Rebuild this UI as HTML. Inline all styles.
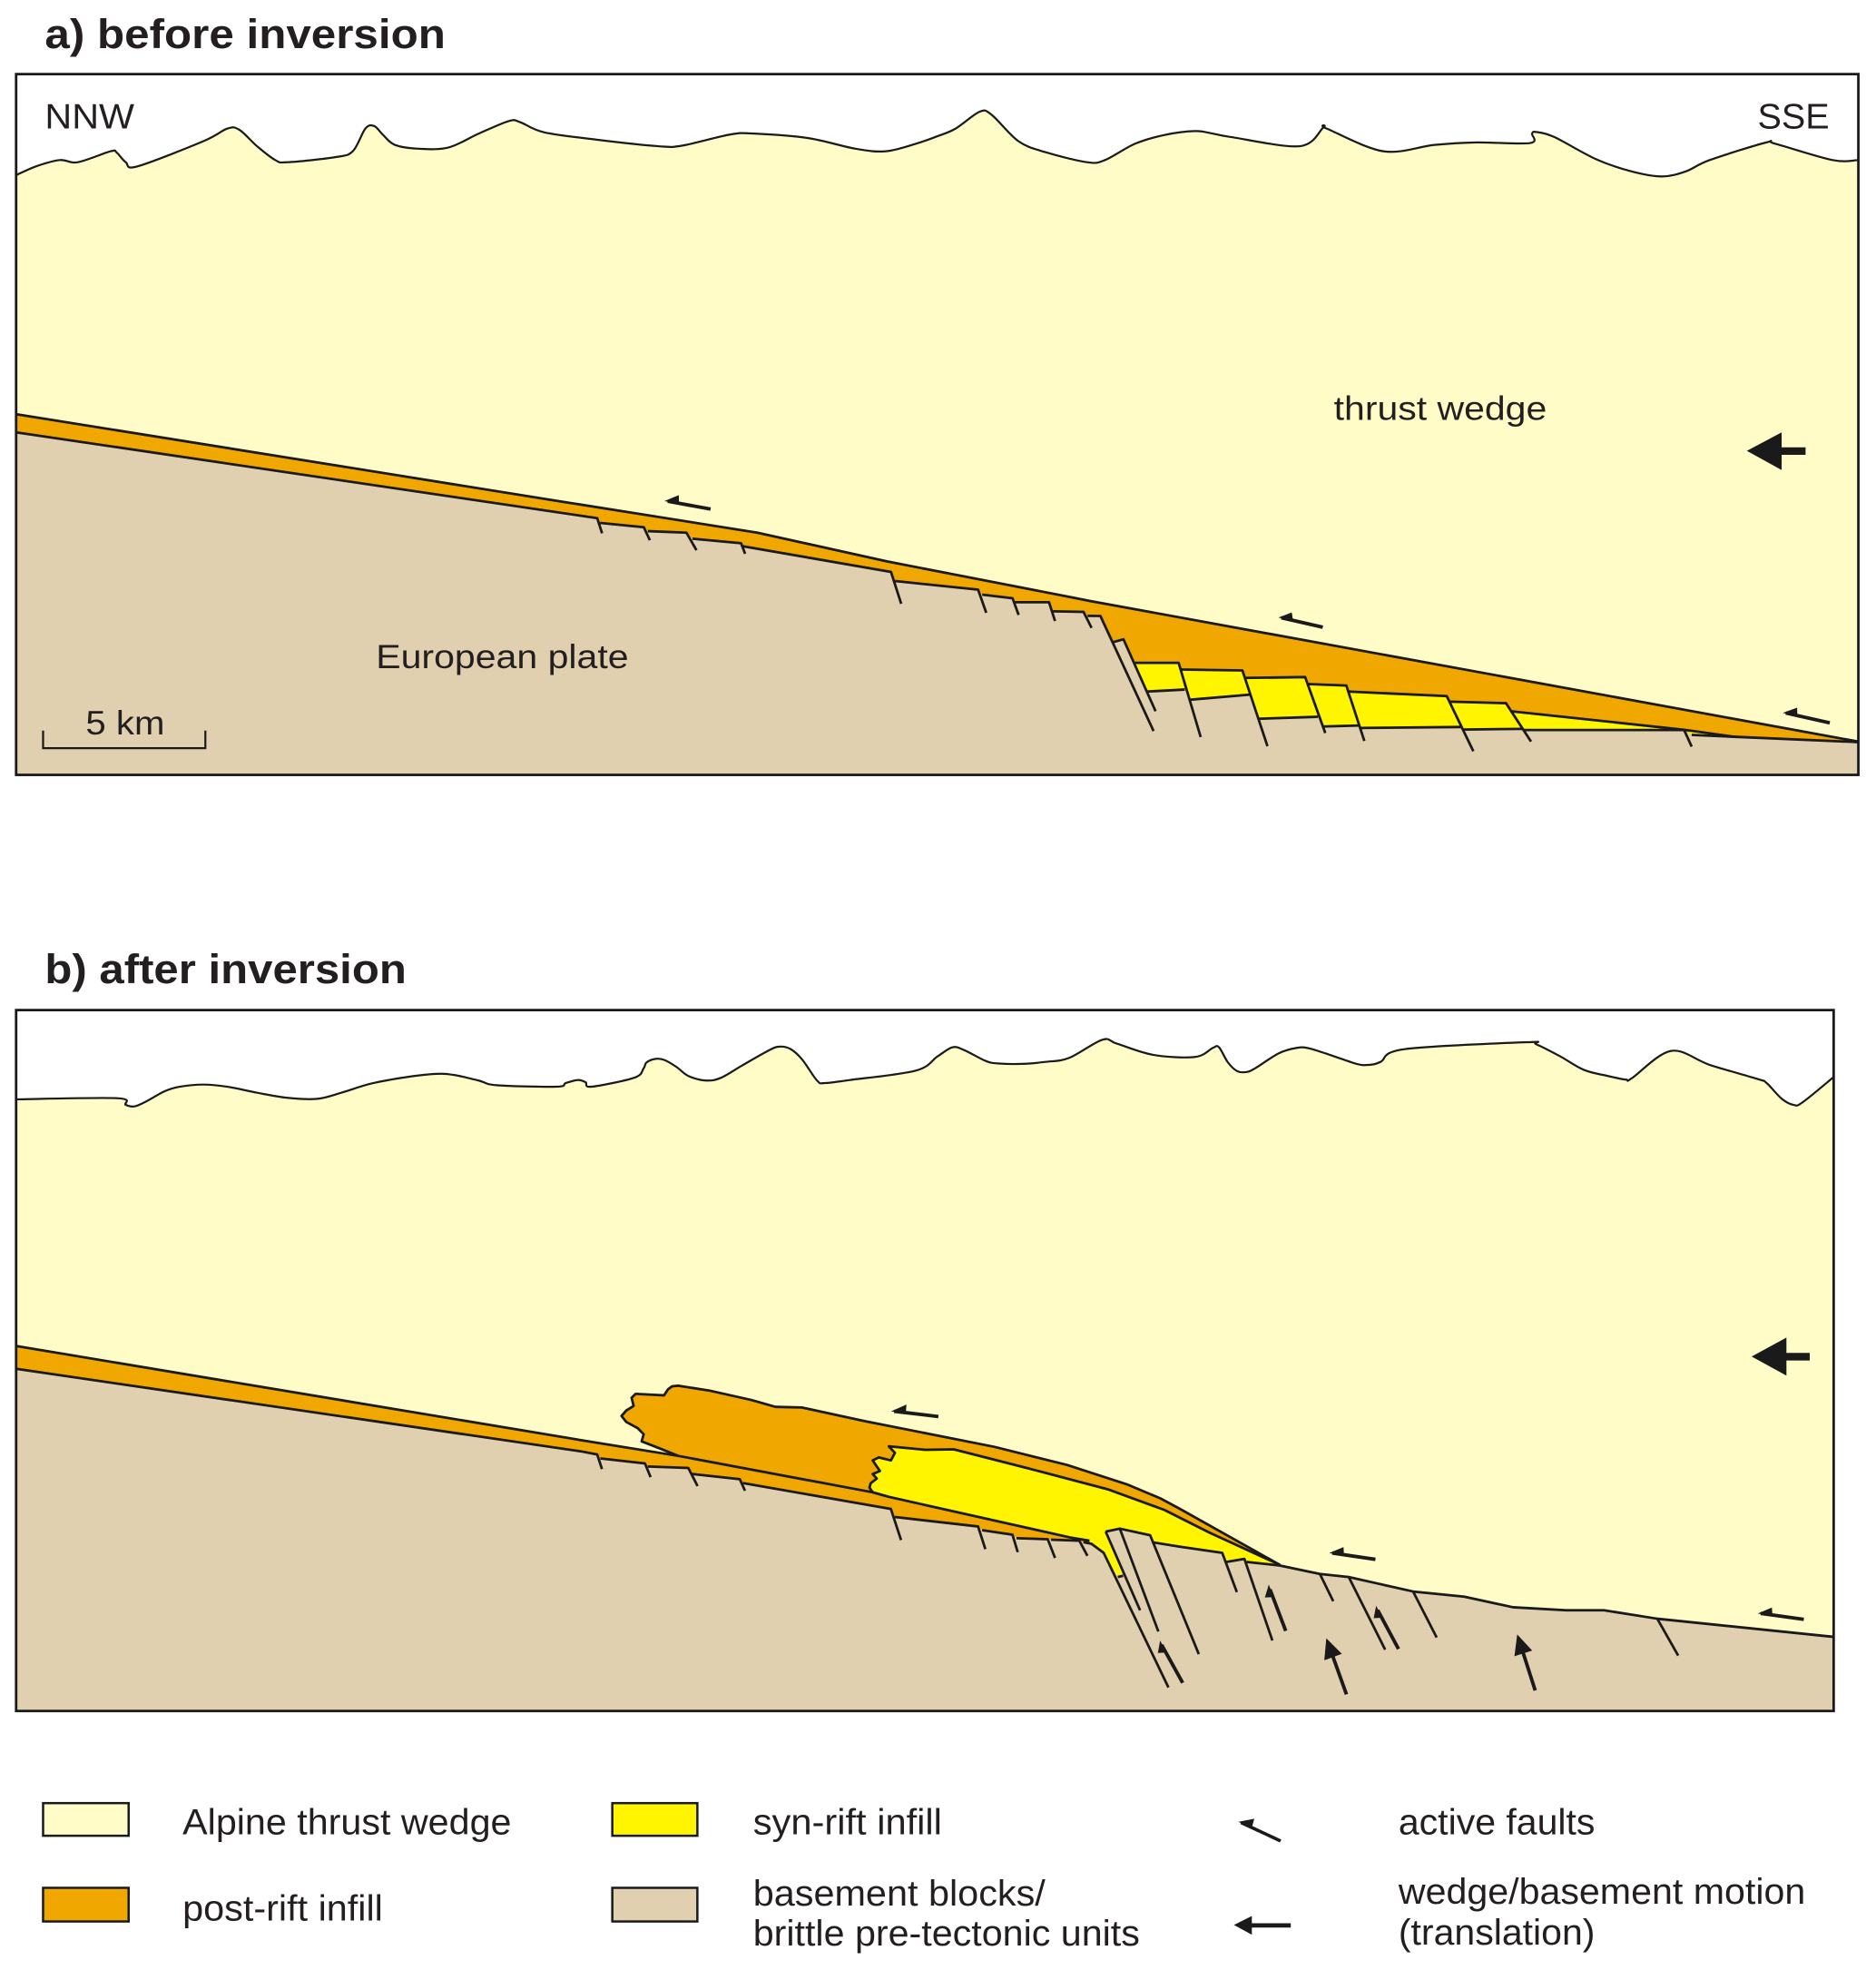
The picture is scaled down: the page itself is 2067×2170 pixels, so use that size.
<!DOCTYPE html>
<html><head><meta charset="utf-8"><style>
html,body{margin:0;padding:0;background:#fff;}
svg{display:block;}
text{font-family:"Liberation Sans",Arial,sans-serif;fill:#231f20;}
</style></head><body>
<svg width="2067" height="2170" viewBox="0 0 1489 1563" preserveAspectRatio="none">
<!-- ===== Titles ===== -->
<text x="35.6" y="38" font-size="33" font-weight="bold" textLength="318" lengthAdjust="spacingAndGlyphs">a) before inversion</text>
<text x="35.6" y="780" font-size="33" font-weight="bold" textLength="287" lengthAdjust="spacingAndGlyphs">b) after inversion</text>

<!-- ===== Panel A ===== -->
<rect x="12.8" y="58.8" width="1462.2" height="556" fill="#fff"/>
<polygon id="fillA" fill="#fffcc8" points="12.8,139 28.5,132 47.5,127 61.8,128.7 87.9,120 92.6,121 99.8,128.7 109,132 161.5,112 180.5,102 190,103 204,116 218.5,127 228,128.7 266,124.7 280,120 290,102 297,100 304,107 313.6,115 332.6,118 356,117 380,106 404,96 413,97 432,105 475,111 522.6,116 541.6,115.5 579.6,106.7 598.6,106 641,109.5 679,118 703,120 727,114 744.2,108 758.5,102 777.5,88.7 787,91 808.3,112 829.7,120.7 863,128.7 877,127 901,114 924.7,107 948.5,104 962.7,106 977,108.7 1031.6,116 1050.6,101 1053,102 1098,120 1138.5,115 1171.8,113 1214.5,113.5 1216,106 1219.3,104.7 1233.6,108.7 1266.8,126.3 1295,136 1319,140 1338,136 1357,127 1402,113 1409,114 1454.5,127 1475,127 1475,614.8 12.8,614.8"/>
<path id="fillAp" fill="#fffcc8" d=""/>
<polyline id="topoA" fill="none" stroke="#1a1a1a" stroke-width="1.6" stroke-linejoin="round" points="12.8,139 28.5,132 47.5,127 61.8,128.7 87.9,120 92.6,121 99.8,128.7 109,132 161.5,112 180.5,102 190,103 204,116 218.5,127 228,128.7 266,124.7 280,120 290,102 297,100 304,107 313.6,115 332.6,118 356,117 380,106 404,96 413,97 432,105 475,111 522.6,116 541.6,115.5 579.6,106.7 598.6,106 641,109.5 679,118 703,120 727,114 744.2,108 758.5,102 777.5,88.7 787,91 808.3,112 829.7,120.7 863,128.7 877,127 901,114 924.7,107 948.5,104 962.7,106 977,108.7 1031.6,116 1050.6,101 1053,102 1098,120 1138.5,115 1171.8,113 1214.5,113.5 1216,106 1219.3,104.7 1233.6,108.7 1266.8,126.3 1295,136 1319,140 1338,136 1357,127 1402,113 1409,114 1454.5,127 1475,127"/>
<path id="topoAp" fill="none" stroke="#1a1a1a" stroke-width="1.6" stroke-linejoin="round" d=""/>
<!-- orange post-rift -->
<polygon fill="#f0a800" points="12.8,328.6 446.7,398.1 601,422.6 704,445.4 852,474.2 864.6,476.7 1475,588.4 1475,614.8 12.8,614.8"/>
<!-- yellow syn-rift blocks -->
<g fill="#fff500">
<polygon points="900.9,525.9 935.5,525.9 940.3,547.1 910.2,548.7"/>
<polygon points="937.1,531.2 986.1,531.9 992.1,551.1 944.2,555.2"/>
<polygon points="988.1,537.9 1035.9,537.2 1045.9,568.7 998.8,570.3"/>
<polygon points="1037.9,542.7 1068.6,543.9 1079.7,575.6 1050,576.4"/>
<polygon points="1070.2,548.7 1148.3,552.3 1159.4,576.8 1079.6,577.6"/>
<polygon points="1150.4,556.7 1195.3,557.9 1208,578.3 1161.1,578.8"/>
<polygon points="1199.5,564.3 1336.7,579 1209.2,579.2"/>
<polygon points="1338,579.2 1378.4,584.8 1342.7,583.1"/>
</g>
<!-- basement -->
<polygon fill="#e0d0b0" points="12.8,343 474,411.1 476.3,414.9 511,418.3 514.2,421.4 544.8,422.6 549.6,427.4 588.2,431 589.8,433.4 707.2,453.8 710.4,461 776.3,467.8 779.6,471.8 803.7,474.7 805.3,477.8 832.6,477.8 835.8,485 860,485.5 863.2,488.6 873.4,488.7 883.1,509.6 891.7,507.2 910.2,548.7 940.3,547.1 944.2,555.2 992.1,551.1 998.8,570.3 1045.9,568.7 1050,576.4 1079.7,575.6 1079.6,577.6 1159.4,576.8 1161.1,578.8 1209.2,579.2 1336.7,579.2 1342.7,583.1 1475,588.8 1475,614.8 12.8,614.8"/>
<g fill="none" stroke="#1a1a1a" stroke-width="2" stroke-linejoin="round" stroke-linecap="butt">
<polyline points="12.8,328.6 446.7,398.1 601,422.6 704,445.4 852,474.2 864.6,476.7 1475,588.4"/>
<polyline points="12.8,343 474,411.1 477.9,423.1"/>
<polyline points="476.3,414.9 511,418.3 515.8,428.6"/>
<polyline points="514.2,421.4 544.8,422.6 552.8,436.5"/>
<polyline points="549.6,427.4 588.2,431 591.4,439.4"/>
<polyline points="589.8,433.4 707.2,453.8 715.3,479"/>
<polyline points="710.4,461 776.3,467.8 782.8,486.2"/>
<polyline points="779.6,471.8 803.7,474.7 808.5,487.9"/>
<polyline points="805.3,477.8 832.6,477.8 837.4,492.7"/>
<polyline points="835.8,485 860,485.5 866.4,498.2"/>
<polyline points="863.2,488.6 873.4,488.7 915.6,580"/>
<polyline points="883.1,509.6 891.7,507.2 917.2,564.3"/>
<polyline points="900.9,525.9 935.5,525.9 953,584.8"/>
<line x1="910.2" y1="548.7" x2="940.3" y2="547.1"/>
<polyline points="937.1,531.2 986.1,531.9 1006,592"/>
<line x1="944.2" y1="555.2" x2="992.1" y2="551.1"/>
<polyline points="988.1,537.9 1035.9,537.2 1051.9,581.6"/>
<line x1="998.8" y1="570.3" x2="1045.9" y2="568.7"/>
<polyline points="1037.9,542.7 1068.6,543.9 1082.9,587.9"/>
<line x1="1050" y1="576.4" x2="1079.7" y2="575.6"/>
<polyline points="1070.2,548.7 1148.3,552.3 1169.4,596"/>
<line x1="1079.6" y1="577.6" x2="1159.4" y2="576.8"/>
<polyline points="1150.4,556.7 1195.3,557.9 1215.2,588.4"/>
<line x1="1161.1" y1="578.8" x2="1208" y2="578.3"/>
<polyline points="1199.5,564.3 1336.7,579 1378.4,584.8"/>
<polyline points="1209.2,579.2 1336.7,579.2 1342.7,592.4"/>
<polyline points="1342.7,583.1 1475,588.8"/>
</g>
<!-- slip arrows panel a -->
<g stroke="#1a1a1a" stroke-width="2.8" fill="#1a1a1a">
<line x1="530" y1="397.7" x2="564" y2="403.9"/>
<polygon stroke-width="0.8" points="528.7,397.4 538.4,393.4 538.5,399.2"/>
<line x1="1017" y1="490.1" x2="1049.9" y2="497.6"/>
<polygon stroke-width="0.8" points="1016,489.9 1025,486.5 1025.8,492.1"/>
<line x1="1417.4" y1="565.7" x2="1452.3" y2="573.5"/>
<polygon stroke-width="0.8" points="1416.4,565.5 1426,562 1426.2,567.7"/>
</g>
<polygon fill="#1a1a1a" points="1386.5,357.7 1414.1,343 1414.1,354.9 1433.1,354.9 1433.1,360.9 1414.1,360.9 1414.1,372.9"/>
<rect x="12.8" y="58.8" width="1462.2" height="556" fill="none" stroke="#1a1a1a" stroke-width="2"/>
<text x="35.6" y="101.9" font-size="28" textLength="71" lengthAdjust="spacingAndGlyphs">NNW</text>
<text x="1395" y="102" font-size="28" textLength="57" lengthAdjust="spacingAndGlyphs">SSE</text>
<text x="1058.7" y="333" font-size="27" textLength="169" lengthAdjust="spacingAndGlyphs">thrust wedge</text>
<text x="298.4" y="530" font-size="27" textLength="200.5" lengthAdjust="spacingAndGlyphs">European plate</text>
<text x="68" y="582.8" font-size="27" textLength="62.7" lengthAdjust="spacingAndGlyphs">5 km</text>
<polyline fill="none" stroke="#1a1a1a" stroke-width="1.6" points="34.2,579.6 34.2,593.6 163,593.6 163,579.6"/>

<!-- ===== Panel B ===== -->
<rect x="12.8" y="801.4" width="1442.6" height="556.1" fill="#fff"/>
<polygon id="fillB" fill="#fffcc8" points="12.8,872.2 92.6,871.3 99.8,876.6 106.9,877.8 116.4,873.7 130.7,865.8 142.5,862.2 161.5,860.5 180.5,862.2 204.3,867 228,871 251.8,871.8 270.8,867 294.6,859.7 323.1,854.5 346.8,852 361,853 380,857.3 394.3,861 441.8,862.2 449,859.3 458.5,856.9 464.7,858.6 469.4,862.2 503.6,855 510.8,847.7 513.1,843 520.2,840.1 527.4,841 536.9,846.5 546.4,853.7 560.6,857.3 572.5,855 589.1,845.3 608.1,834.5 617.6,830.5 627.1,832.1 636.6,840.5 648.5,857.3 654.7,859.3 674.6,856.9 726.9,849.4 744.2,838.1 756.1,830.9 765.6,833.3 782.2,841.7 791.7,843.7 810.7,844.1 829.7,842.5 848.7,839.3 874.9,824.9 886.7,828.1 915.2,836.9 948.5,838.6 962.7,831.4 967.5,830.9 974.6,842.9 981.8,849.7 988.9,850.6 996,847.7 1015,835.7 1029.3,831.4 1038.8,831.7 1057.8,837.7 1076.8,844.1 1086.3,844.9 1095.8,842.5 1114.8,832.4 1212.2,826.9 1219.3,828.5 1238.3,838.1 1257.3,848.9 1276.3,853.7 1290.6,856.6 1295.3,855.4 1326.2,833.8 1357.1,844.9 1395.1,856.1 1402.2,859.3 1414.1,871.7 1423.6,876.6 1430.7,874.6 1455.4,854.5 1455.4,1357.5 12.8,1357.5"/>
<path id="fillBp" fill="#fffcc8" d=""/>
<polyline id="topoB" fill="none" stroke="#1a1a1a" stroke-width="1.6" stroke-linejoin="round" points="12.8,872.2 92.6,871.3 99.8,876.6 106.9,877.8 116.4,873.7 130.7,865.8 142.5,862.2 161.5,860.5 180.5,862.2 204.3,867 228,871 251.8,871.8 270.8,867 294.6,859.7 323.1,854.5 346.8,852 361,853 380,857.3 394.3,861 441.8,862.2 449,859.3 458.5,856.9 464.7,858.6 469.4,862.2 503.6,855 510.8,847.7 513.1,843 520.2,840.1 527.4,841 536.9,846.5 546.4,853.7 560.6,857.3 572.5,855 589.1,845.3 608.1,834.5 617.6,830.5 627.1,832.1 636.6,840.5 648.5,857.3 654.7,859.3 674.6,856.9 726.9,849.4 744.2,838.1 756.1,830.9 765.6,833.3 782.2,841.7 791.7,843.7 810.7,844.1 829.7,842.5 848.7,839.3 874.9,824.9 886.7,828.1 915.2,836.9 948.5,838.6 962.7,831.4 967.5,830.9 974.6,842.9 981.8,849.7 988.9,850.6 996,847.7 1015,835.7 1029.3,831.4 1038.8,831.7 1057.8,837.7 1076.8,844.1 1086.3,844.9 1095.8,842.5 1114.8,832.4 1212.2,826.9 1219.3,828.5 1238.3,838.1 1257.3,848.9 1276.3,853.7 1290.6,856.6 1295.3,855.4 1326.2,833.8 1357.1,844.9 1395.1,856.1 1402.2,859.3 1414.1,871.7 1423.6,876.6 1430.7,874.6 1455.4,854.5"/>
<path id="topoBp" fill="none" stroke="#1a1a1a" stroke-width="1.6" stroke-linejoin="round" d=""/>
<!-- thin orange layer -->
<polygon fill="#f0a800" points="12.8,1067.9 461.1,1142.6 538.3,1155.1 692.7,1184 705.5,1187.6 850.2,1220 864.7,1222.4 870,1230 870,1357.5 12.8,1357.5"/>
<!-- orange body -->
<polygon fill="#f0a800" points="504.5,1105.9 527,1107.1 530.2,1102.3 533.5,1099.9 538.3,1099.4 564,1103.5 596.2,1110.7 615.5,1116.2 636.4,1116.7 686.2,1127.5 789.1,1147.9 847,1162.3 895.3,1178 921,1188.8 936.6,1197.2 1015.9,1241.6 864.7,1222.4 850.2,1220 705.5,1187.6 692.7,1184 538.3,1155.1 525.4,1149.9 509.3,1143.6 510.9,1137.9 506.1,1133.1 497.1,1128.2 493.3,1123.4 497.1,1119.1 502.9,1115.5 501.3,1109"/>
<!-- yellow body -->
<polygon fill="#fff500" points="705.5,1147.5 734.5,1150.3 757,1149.9 814.9,1164.7 879.2,1181.6 924.2,1198 960,1216 1015.9,1241.6 989.5,1239.2 960,1250 895,1256 887.2,1251.2 876,1232 864.7,1222.4 850.2,1220 705.5,1187.6 692.7,1184 690.1,1180.3 691.1,1176.8 695.9,1173.1 692.7,1169.5 698.4,1167.1 695.9,1163.5 692.7,1158.7 697.5,1156.3 707.1,1158.7 710.3,1152.7"/>
<!-- basement -->
<polygon fill="#e0d0b0" points="12.8,1086 461.1,1151.5 474,1154 476.5,1157.1 511.9,1161.1 514.2,1163.5 546.3,1164.7 549.5,1169.5 587.2,1173.6 589.7,1176.7 707.1,1197.2 710.3,1203.6 776.3,1211.1 779.5,1214 803.6,1217.6 806.8,1220.4 831.6,1221.2 834.2,1221.6 856.7,1222.4 859.9,1223.6 866.3,1224.8 876,1232 887.2,1251.2 891.4,1250.2 877.6,1215.2 888.8,1212.8 912.9,1218.1 914.5,1223.6 936.6,1227.2 970.1,1232 973.6,1239.2 987.7,1236.8 989.5,1239.2 1015.9,1242.1 1047.6,1248.8 1070.5,1251.2 1121.6,1262.7 1162.1,1266.8 1200.9,1275.2 1243.2,1277.6 1273.1,1277.6 1315.4,1284.3 1455.4,1298.7 1455.4,1357.5 12.8,1357.5"/>
<g fill="none" stroke="#1a1a1a" stroke-width="2" stroke-linejoin="round">
<polyline points="12.8,1067.9 461.1,1142.6 538.3,1155.1 692.7,1184 705.5,1187.6 850.2,1220 864.7,1222.4"/>
<polyline points="12.8,1086 461.1,1151.5 474,1154 477.8,1165.5"/>
<polyline points="476.5,1157.1 511.9,1161.1 516.4,1172"/>
<polyline points="514.2,1163.5 546.3,1164.7 553.7,1179.1"/>
<polyline points="549.5,1169.5 587.2,1173.6 591.3,1182.7"/>
<polyline points="589.7,1176.7 707.1,1197.2 715.2,1221.9"/>
<polyline points="710.3,1203.6 776.3,1211.1 782.1,1229.1"/>
<polyline points="779.5,1214 803.6,1217.6 807.8,1231.5"/>
<polyline points="806.8,1220.4 831.6,1221.2 837.4,1236.1"/>
<polyline points="834.2,1221.6 856.7,1222.4 863.1,1234.4"/>
<polyline points="859.9,1223.6 866.3,1224.8 876,1232 927.4,1338.8"/>
<line x1="887.2" y1="1251.2" x2="891.4" y2="1250.2"/>
<polyline points="877.6,1215.2 904.9,1277.6"/>
<polyline points="877.6,1215.2 888.8,1212.8 919.4,1294.4"/>
<polyline points="888.8,1212.8 912.9,1218.1 951.5,1312.4"/>
<polyline points="914.5,1223.6 936.6,1227.2 970.1,1232 981.7,1263.2"/>
<polyline points="973.6,1239.2 987.7,1236.8 1009.9,1301.6"/>
<polyline points="989.5,1239.2 1015.9,1242.1 1047.6,1248.8 1070.5,1251.2 1121.6,1262.7 1162.1,1266.8 1200.9,1275.2 1243.2,1277.6 1273.1,1277.6 1315.4,1284.3 1455.4,1298.7"/>
<line x1="1047.6" y1="1248.8" x2="1058.2" y2="1270.4"/>
<line x1="1070.5" y1="1251.2" x2="1099.4" y2="1308.8"/>
<line x1="1121.6" y1="1262.7" x2="1140.3" y2="1299.2"/>
<line x1="1315.4" y1="1284.3" x2="1332" y2="1313.6"/>
<polyline points="538.3,1155.1 525.4,1149.9 509.3,1143.6 510.9,1137.9 506.1,1133.1 497.1,1128.2 493.3,1123.4 497.1,1119.1 502.9,1115.5 501.3,1109 504.5,1105.9 527,1107.1 530.2,1102.3 533.5,1099.9 538.3,1099.4 564,1103.5 596.2,1110.7 615.5,1116.2 636.4,1116.7 686.2,1127.5 789.1,1147.9 847,1162.3 895.3,1178 921,1188.8 936.6,1197.2 1015.9,1241.6"/>
<polyline points="705.5,1187.6 692.7,1184 690.1,1180.3 691.1,1176.8 695.9,1173.1 692.7,1169.5 698.4,1167.1 695.9,1163.5 692.7,1158.7 697.5,1156.3 707.1,1158.7 710.3,1152.7 705.5,1147.5 734.5,1150.3 757,1149.9 814.9,1164.7 879.2,1181.6 924.2,1198 960,1216 1015.9,1241.6"/>
</g>
<!-- slip arrows panel b -->
<g stroke="#1a1a1a" stroke-width="2.8" fill="#1a1a1a">
<line x1="709.7" y1="1119.7" x2="744.8" y2="1123.9"/>
<polygon stroke-width="0.8" points="708.7,1119.6 719,1115 718.6,1120.8"/>
<line x1="1057.4" y1="1232.2" x2="1091.7" y2="1237.2"/>
<polygon stroke-width="0.8" points="1056.4,1232 1066,1228 1066.3,1233.5"/>
<line x1="1397.5" y1="1280.1" x2="1431.7" y2="1284.8"/>
<polygon stroke-width="0.8" points="1396.5,1280 1406,1276 1406.4,1281.4"/>
<line x1="922" y1="1305" x2="938.7" y2="1335.2"/>
<polygon stroke-width="0.8" points="921,1302.8 919.5,1311 925.3,1310.7"/>
<line x1="1008" y1="1261" x2="1020.5" y2="1293.9"/>
<polygon stroke-width="0.8" points="1007.1,1258.4 1004.5,1267 1010.3,1266.8"/>
<line x1="1093.5" y1="1277.5" x2="1110" y2="1308.3"/>
<polygon stroke-width="0.8" points="1092.4,1275.2 1090.8,1283.5 1096.6,1283.1"/>
<line x1="1068.7" y1="1344.3" x2="1058" y2="1314.5"/>
<polygon stroke-width="0.5" points="1052.9,1300.4 1064.6,1312.1 1051.4,1316.9"/>
<line x1="1218.5" y1="1341.2" x2="1209" y2="1311.6"/>
<polygon stroke-width="0.5" points="1204.4,1297.3 1215.65,1309.44 1202.32,1313.72"/>
</g>
<polygon fill="#1a1a1a" points="1390.3,1076.3 1417.9,1061.2 1417.9,1073.4 1436.4,1073.4 1436.4,1079.4 1417.9,1079.4 1417.9,1091.4"/>
<rect x="12.8" y="801.4" width="1442.6" height="556.1" fill="none" stroke="#1a1a1a" stroke-width="2"/>

<!-- ===== Legend ===== -->
<g stroke="#1a1a1a" stroke-width="1.8">
<rect x="34.2" y="1430.6" width="67.9" height="25.9" fill="#fffcc8"/>
<rect x="34.2" y="1497.8" width="67.9" height="26.7" fill="#f0a800"/>
<rect x="486" y="1430.6" width="67.5" height="25.9" fill="#fff500"/>
<rect x="486" y="1497.8" width="67.5" height="26.7" fill="#e0d0b0"/>
</g>
<text x="144.9" y="1455.3" font-size="29" textLength="261" lengthAdjust="spacingAndGlyphs">Alpine thrust wedge</text>
<text x="144.9" y="1523.7" font-size="29" textLength="159" lengthAdjust="spacingAndGlyphs">post-rift infill</text>
<text x="597.7" y="1455.3" font-size="29" textLength="150" lengthAdjust="spacingAndGlyphs">syn-rift infill</text>
<text x="597.7" y="1511.7" font-size="29" textLength="232" lengthAdjust="spacingAndGlyphs">basement blocks/</text>
<text x="597.7" y="1543.7" font-size="29" textLength="307" lengthAdjust="spacingAndGlyphs">brittle pre-tectonic units</text>
<text x="1110" y="1455.3" font-size="29" textLength="156" lengthAdjust="spacingAndGlyphs">active faults</text>
<text x="1110" y="1510.5" font-size="29" textLength="323" lengthAdjust="spacingAndGlyphs">wedge/basement motion</text>
<text x="1110" y="1543" font-size="29" textLength="156" lengthAdjust="spacingAndGlyphs">(translation)</text>
<g stroke="#1a1a1a" fill="#1a1a1a">
<line x1="985" y1="1446" x2="1016.4" y2="1460.6" stroke-width="2.6"/>
<polygon stroke-width="0.8" points="984.1,1445.6 995,1443.5 993.2,1449.8"/>
</g>
<polygon fill="#1a1a1a" points="979.4,1527.3 993.6,1520.1 993.6,1525.9 1024.5,1525.9 1024.5,1529.3 993.6,1529.3 993.6,1535"/>
</svg>
<script>
(function(){
  function parse(s){return s.trim().split(/\s+/).map(function(p){var a=p.split(',');return [parseFloat(a[0]),parseFloat(a[1])];});}
  function smooth(pts){
    var d='M'+pts[0][0]+','+pts[0][1];
    for(var i=0;i<pts.length-1;i++){
      var p0=pts[i-1]||pts[i],p1=pts[i],p2=pts[i+1],p3=pts[i+2]||p2;
      var c1x=p1[0]+(p2[0]-p0[0])/6,c1y=p1[1]+(p2[1]-p0[1])/6;
      var c2x=p2[0]-(p3[0]-p1[0])/6,c2y=p2[1]-(p3[1]-p1[1])/6;
      d+=' C'+c1x.toFixed(2)+','+c1y.toFixed(2)+' '+c2x.toFixed(2)+','+c2y.toFixed(2)+' '+p2[0]+','+p2[1];
    }
    return d;
  }
  try{
    ['A','B'].forEach(function(k){
      var line=document.getElementById('topo'+k);
      var fill=document.getElementById('fill'+k);
      var lp=parse(line.getAttribute('points'));
      var fp=parse(fill.getAttribute('points'));
      var n=fp.length;
      var dl=smooth(lp);
      var df=smooth(fp.slice(0,n-2))+' L'+fp[n-2][0]+','+fp[n-2][1]+' L'+fp[n-1][0]+','+fp[n-1][1]+' Z';
      document.getElementById('topo'+k+'p').setAttribute('d',dl);
      document.getElementById('fill'+k+'p').setAttribute('d',df);
      line.style.display='none';
      fill.style.display='none';
    });
  }catch(e){}
})();
</script>
</body></html>
